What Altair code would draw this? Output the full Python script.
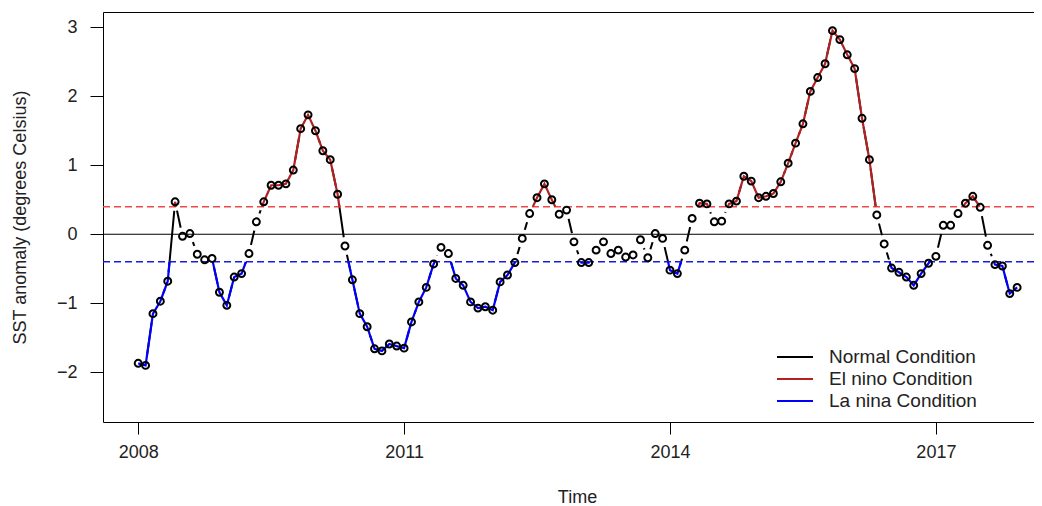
import altair as alt
import pandas as pd

# ---- data (monthly SST anomaly, Jan 2008 .. Dec 2017) ----
start_year = 2008
sst_2008 = [-1.87, -1.90, -1.15, -0.97, -0.68, 0.47, -0.03, 0.01, -0.29, -0.37, -0.35, -0.84]
sst_2009 = [-1.03, -0.62, -0.57, -0.28, 0.18, 0.47, 0.71, 0.71, 0.73, 0.93, 1.53, 1.73]
sst_2010 = [1.50, 1.21, 1.08, 0.58, -0.17, -0.66, -1.15, -1.34, -1.66, -1.69, -1.59, -1.62]
sst_2011 = [-1.65, -1.27, -0.98, -0.77, -0.43, -0.19, -0.28, -0.64, -0.74, -0.98, -1.07, -1.05]
sst_2012 = [-1.10, -0.69, -0.59, -0.41, -0.06, 0.30, 0.53, 0.73, 0.50, 0.29, 0.35, -0.11]
sst_2013 = [-0.41, -0.41, -0.23, -0.11, -0.28, -0.23, -0.33, -0.30, -0.08, -0.34, 0.01, -0.06]
sst_2014 = [-0.52, -0.57, -0.23, 0.23, 0.45, 0.44, 0.18, 0.19, 0.44, 0.48, 0.84, 0.77]
sst_2015 = [0.53, 0.55, 0.59, 0.76, 1.03, 1.32, 1.60, 2.07, 2.27, 2.47, 2.95, 2.82]
sst_2016 = [2.60, 2.40, 1.68, 1.08, 0.28, -0.14, -0.49, -0.55, -0.62, -0.74, -0.57, -0.42]
sst_2017 = [-0.32, 0.13, 0.13, 0.30, 0.45, 0.55, 0.39, -0.16, -0.44, -0.46, -0.86, -0.77]

el_nino_threshold = 0.4
la_nina_threshold = -0.4

condition_labels = ["Normal Condition", "El nino Condition", "La nina Condition"]
condition_colors = ["#000000", "#B22222", "#0000FF"]

x_ticks = [2008, 2011, 2014, 2017]
y_ticks = [-2, -1, 0, 1, 2, 3]

# ---- build tables ----
values = (sst_2008 + sst_2009 + sst_2010 + sst_2011 + sst_2012 +
          sst_2013 + sst_2014 + sst_2015 + sst_2016 + sst_2017)
times = [start_year + m / 12 for m in range(len(values))]
base_df = pd.DataFrame({"t": times, "v": values, "cond": condition_labels[0]})


def clip_runs(ts, vs, thr, above, label):
    inside = (lambda val: val > thr) if above else (lambda val: val < thr)
    rows = []
    seg = 0
    for i in range(len(vs)):
        if i > 0:
            a, b = vs[i - 1], vs[i]
            ia, ib = inside(a), inside(b)
            if ia != ib:
                f = (thr - a) / (b - a)
                tc = ts[i - 1] + f * (ts[i] - ts[i - 1])
                rows.append({"t": tc, "v": thr, "seg": f"{label}-{seg}", "cond": label})
                if ia:
                    seg += 1
        if inside(vs[i]):
            rows.append({"t": ts[i], "v": vs[i], "seg": f"{label}-{seg}", "cond": label})
    return rows


clip_df = pd.DataFrame(
    clip_runs(times, values, el_nino_threshold, True, condition_labels[1]) +
    clip_runs(times, values, la_nina_threshold, False, condition_labels[2])
)

FONT = "Liberation Sans"

x_enc = alt.X(
    "t:Q",
    scale=alt.Scale(domain=[2007.603, 2018.107], nice=False, zero=False),
    axis=alt.Axis(
        values=x_ticks, format="d", title="Time", grid=False, domain=False,
        tickSize=12, tickColor="#000000", labelPadding=9, labelFontSize=18,
        labelFont=FONT, labelColor="#222222", titleFont=FONT, titleFontSize=18,
        titleFontWeight="normal", titleColor="#222222", titleX=474, titleY=75,
        titleBaseline="middle", titleAlign="center", labelFlush=False,
    ),
)
y_enc = alt.Y(
    "v:Q",
    scale=alt.Scale(domain=[-2.72, 3.22], nice=False, zero=False),
    axis=alt.Axis(
        values=y_ticks, title="SST anomaly (degrees Celsius)", grid=False,
        domain=False, tickSize=13, tickColor="#000000", labelPadding=13,
        labelFontSize=18, labelFont=FONT, labelColor="#222222", labelAngle=0,
        titleFont=FONT, titleFontSize=18, titleFontWeight="normal",
        titleColor="#222222", titleX=-83, titleY=205, titleBaseline="middle",
        titleAlign="center", labelFlush=False,
    ),
)
color_enc = alt.Color(
    "cond:N",
    scale=alt.Scale(domain=condition_labels, range=condition_colors),
    legend=alt.Legend(
        title=None, orient="none", legendX=682, legendY=335, direction="vertical",
        symbolType="M-2,0H2", symbolSize=324, symbolStrokeWidth=2,
        symbolFillColor="transparent",
        labelFontSize=19, labelFont=FONT, labelColor="#222222", labelOffset=24,
        rowPadding=2, padding=0, labelLimit=0,
    ),
)

black_line = alt.Chart(base_df).mark_line(strokeWidth=2).encode(
    x=x_enc, y=y_enc, color=color_enc
)
masks = alt.Chart(base_df).mark_point(
    shape="circle", filled=True, color="white", size=330, opacity=1, strokeWidth=0
).encode(x=x_enc, y=y_enc)

zero_rule = alt.Chart(pd.DataFrame({"v": [0.0]})).mark_rule(
    color="#000000", strokeWidth=1
).encode(y=y_enc)
el_rule = alt.Chart(pd.DataFrame({"v": [el_nino_threshold]})).mark_rule(
    color="#F04848", strokeWidth=1.5, strokeDash=[7, 4]
).encode(y=y_enc)
la_rule = alt.Chart(pd.DataFrame({"v": [la_nina_threshold]})).mark_rule(
    color="#1A1AE0", strokeWidth=1.5, strokeDash=[7, 4]
).encode(y=y_enc)

colored = alt.Chart(clip_df).mark_line(strokeWidth=2.2).encode(
    x=x_enc, y=y_enc, color=color_enc, detail="seg:N"
)
points = alt.Chart(base_df).mark_point(
    shape="circle", filled=False, color="#000000", size=48, strokeWidth=2, opacity=1
).encode(x=x_enc, y=y_enc)

chart = alt.layer(
    black_line, masks, zero_rule, el_rule, la_rule, colored, points
).properties(
    width=931, height=410,
    autosize=alt.AutoSizeParams(type="none"),
    padding={"left": 95, "top": 4, "right": 0, "bottom": 90},
    background="white",
).configure(
    font=FONT,
    view=alt.ViewConfig(stroke="#000000", strokeWidth=1),
)

chart.save("out.html", embed_options={"renderer": "svg", "actions": False})
